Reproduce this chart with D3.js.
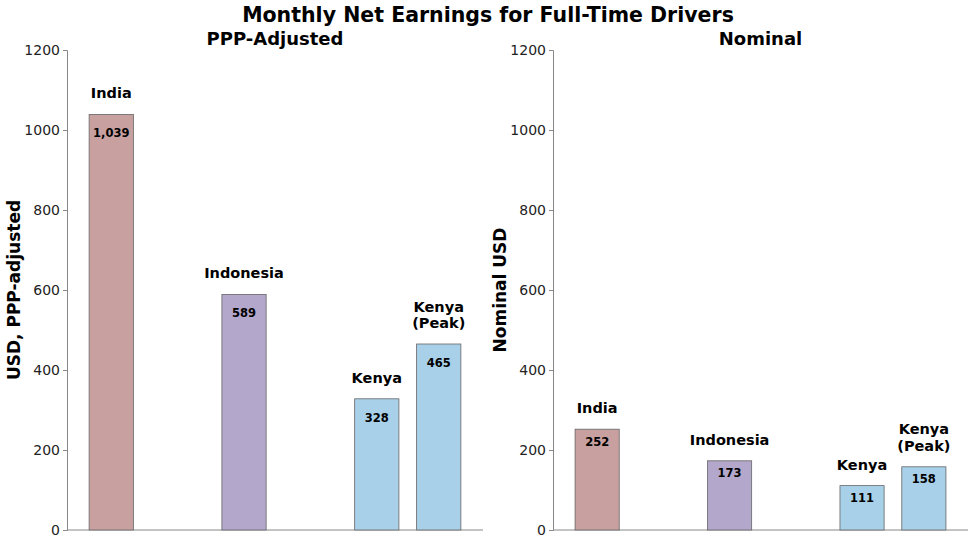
<!DOCTYPE html>
<html>
<head>
<meta charset="utf-8">
<script src="https://cdn.jsdelivr.net/npm/d3@7"></script>
<style>
  body { margin: 0; background: #fff; }
  svg { font-family: "DejaVu Sans", sans-serif; }
</style>
</head>
<body>
<script>
const countries = ["India", "Indonesia", "Kenya", "Kenya\n(Peak)"];
const positions = [0, 1.5, 3, 3.7];
const pppValues = [1039, 589, 328, 465];
const nominalValues = [252, 173, 111, 158];
const barColors = ["#c8a0a0", "#b3a7cc", "#a8d0e8", "#a8d0e8"];
const yTicks = [0, 200, 400, 600, 800, 1000, 1200];

const width = 975, height = 544;
const svg = d3.select("body").append("svg")
  .attr("width", width)
  .attr("height", height);

svg.append("text")
  .attr("x", 488)
  .attr("y", 22)
  .attr("text-anchor", "middle")
  .attr("font-size", 20.5)
  .attr("font-weight", "bold")
  .text("Monthly Net Earnings for Full-Time Drivers");

const y = d3.scaleLinear().domain([0, 1200]).range([530, 50]);

const panels = [
  { title: "PPP-Adjusted", ylabel: "USD, PPP-adjusted", values: pppValues, left: 67, right: 483, ylx: 20, offset: 19, fmt: d3.format(",") },
  { title: "Nominal", ylabel: "Nominal USD", values: nominalValues, left: 553, right: 968, ylx: 506, offset: 12.5, fmt: d3.format(",") }
];

panels.forEach(p => {
  const x = d3.scaleLinear().domain([-0.5, 4.2]).range([p.left, p.right]);
  const bw = x(0.5) - x(0);
  const g = svg.append("g");

  g.append("text")
    .attr("x", (p.left + p.right) / 2)
    .attr("y", 45)
    .attr("text-anchor", "middle")
    .attr("font-size", 18)
    .attr("font-weight", "bold")
    .text(p.title);

  const yAxis = g.append("g")
    .attr("transform", `translate(${p.left},0)`)
    .call(d3.axisLeft(y).tickValues(yTicks).tickSize(4).tickPadding(3).tickFormat(d3.format("d")));
  yAxis.select(".domain").attr("stroke", "#888");
  yAxis.selectAll(".tick line").attr("stroke", "#888");
  yAxis.selectAll(".tick text").attr("font-size", 14).attr("fill", "#222")
    .attr("font-family", "DejaVu Sans, sans-serif");

  g.append("line")
    .attr("x1", p.left).attr("x2", p.right)
    .attr("y1", y(0)).attr("y2", y(0))
    .attr("stroke", "#888");

  g.append("text")
    .attr("transform", `translate(${p.ylx},${(y(0) + y(1200)) / 2}) rotate(-90)`)
    .attr("text-anchor", "middle")
    .attr("font-size", 17)
    .attr("font-weight", "bold")
    .text(p.ylabel);

  g.selectAll("rect.bar")
    .data(p.values)
    .join("rect")
    .attr("class", "bar")
    .attr("x", (d, i) => x(positions[i]) - bw / 2)
    .attr("y", d => y(d))
    .attr("width", bw)
    .attr("height", d => y(0) - y(d))
    .attr("fill", (d, i) => barColors[i])
    .attr("stroke", "#666")
    .attr("stroke-width", 0.8);

  g.selectAll("text.val")
    .data(p.values)
    .join("text")
    .attr("class", "val")
    .attr("x", (d, i) => x(positions[i]))
    .attr("y", d => y(d) + p.offset + 4)
    .attr("text-anchor", "middle")
    .attr("font-size", 11.5)
    .attr("font-weight", "bold")
    .text(d => p.fmt(d));

  g.selectAll("text.cat")
    .data(p.values)
    .join("text")
    .attr("class", "cat")
    .attr("text-anchor", "middle")
    .attr("font-size", 14.5)
    .attr("font-weight", "bold")
    .each(function(d, i) {
      const lines = countries[i].split("\n");
      const t = d3.select(this);
      lines.forEach((ln, k) => {
        t.append("tspan")
          .attr("x", x(positions[i]))
          .attr("y", y(d) - 16 - (lines.length - 1 - k) * 16.5)
          .text(ln);
      });
    });
});
</script>
</body>
</html>
